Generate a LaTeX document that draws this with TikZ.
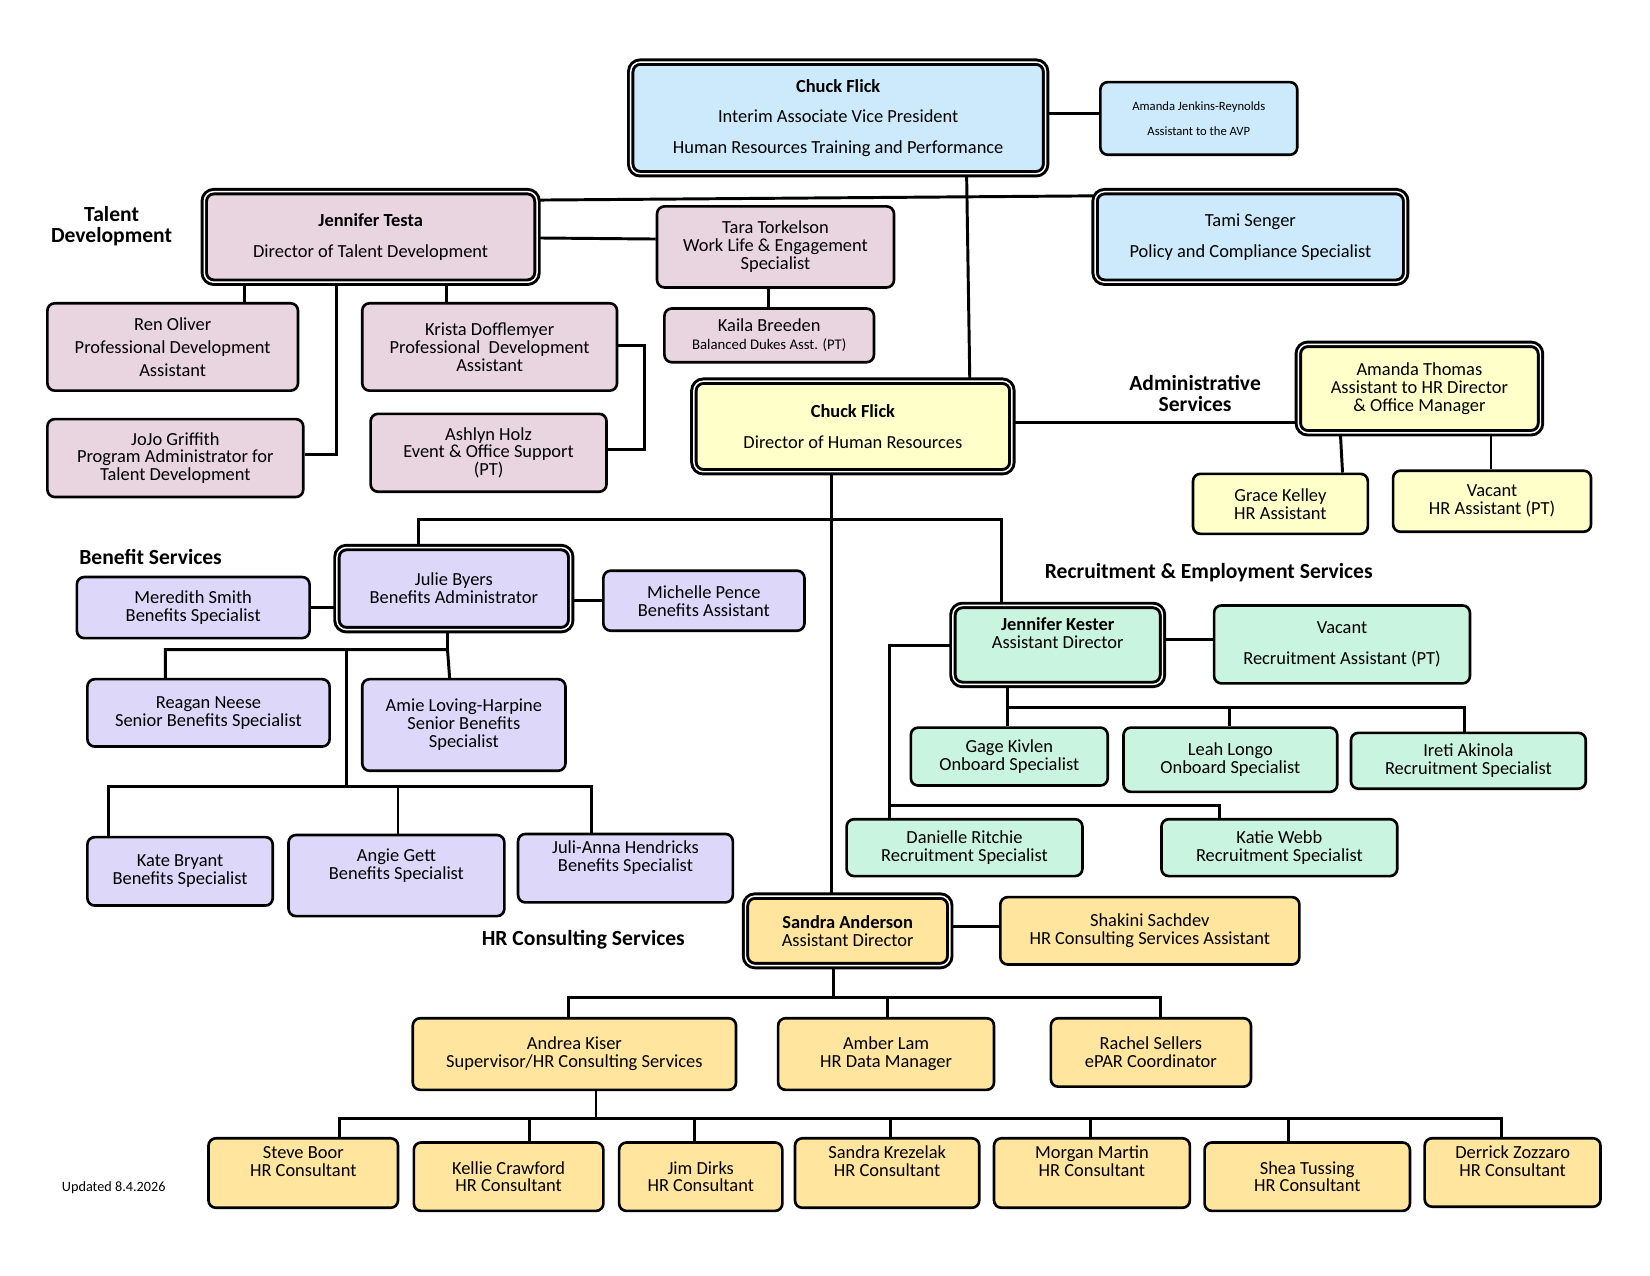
\documentclass[tikz,border=0pt]{standalone}
\usepackage{fontspec}
\setmainfont{Carlito}
\begin{document}
\begin{tikzpicture}[x=1pt,y=-1pt,
 bx/.style={draw,line width=2.5pt,rounded corners=7pt,align=center,inner sep=1pt,font=\fontsize{17.5}{17}\selectfont},
 tk/.style={bx,line width=2.8pt,double=white,double distance=1.4pt,rounded corners=9pt},
 ln/.style={line width=2.8pt},
 lab/.style={font=\fontsize{20.5}{20}\selectfont\bfseries,align=center}]
\definecolor{cb}{HTML}{CCEAFB}\definecolor{cp}{HTML}{E9D5E0}\definecolor{cy}{HTML}{FFFFCA}
\definecolor{cv}{HTML}{DDD8FA}\definecolor{cg}{HTML}{C9F4E0}\definecolor{co}{HTML}{FFE59E}
\useasboundingbox (0,0) rectangle (1567,1211);
\newcommand\bx[7]{\node[#6,minimum width={(#4-#2)*1pt},minimum height={(#5-#3)*1pt}] (#1) at ({(#2+#4)/2},{(#3+#5)/2}) {#7};}
% top
\bx{avp}{599}{59}{993}{165}{tk,fill=cb,font=\fontsize{17.5}{29}\selectfont}{\textbf{Chuck Flick}\\Interim Associate Vice President\\Human Resources Training and Performance}
\bx{ajr}{1045}{78}{1232}{147}{bx,fill=cb,font=\fontsize{12}{24}\selectfont}{Amanda Jenkins-Reynolds\\Assistant to the AVP}
\bx{tami}{1040}{182}{1335}{268}{tk,fill=cb,font=\fontsize{17.5}{29}\selectfont}{Tami Senger\\Policy and Compliance Specialist}
% talent
\bx{testa}{194}{182}{510}{268}{tk,fill=cp,font=\fontsize{17.5}{29}\selectfont}{\textbf{Jennifer Testa}\\Director of Talent Development}
\bx{tara}{624}{196}{849}{273}{bx,fill=cp}{Tara Torkelson\\Work Life \& Engagement\\Specialist}
\bx{kaila}{631}{293}{830}{344}{bx,fill=cp}{Kaila Breeden\\{\fontsize{14}{14}\selectfont Balanced Dukes Asst. (PT)}}
\bx{ren}{45}{288}{283}{371}{bx,fill=cp,font=\fontsize{17.5}{22}\selectfont}{Ren Oliver\\Professional Development\\Assistant}
\bx{krista}{344}{288}{586}{371}{bx,fill=cp}{Krista Dofflemyer\\Professional~ Development\\Assistant}
\bx{jojo}{45}{398}{288}{472}{bx,fill=cp}{JoJo Griffith\\Program Administrator for\\Talent Development}
\bx{ashlyn}{352}{393}{576}{467}{bx,fill=cp}{Ashlyn Holz\\Event \& Office Support\\(PT)}
% HR
\bx{hrd}{659}{362}{961}{448}{tk,fill=cy,font=\fontsize{17.5}{29}\selectfont}{\textbf{Chuck Flick}\\Director of Human Resources}
\bx{athomas}{1233}{327}{1463}{411}{tk,fill=cy}{Amanda Thomas\\Assistant to HR Director\\\& Office Manager}
\bx{grace}{1133}{450}{1299}{507}{bx,fill=cy}{Grace Kelley\\HR Assistant}
\bx{vachr}{1323}{447}{1511}{505}{bx,fill=cy}{Vacant\\HR Assistant (PT)}
% benefits
\bx{julie}{320}{520}{542}{598}{tk,fill=cv}{Julie Byers\\Benefits Administrator}
\bx{meredith}{73}{548}{294}{606}{bx,fill=cv}{Meredith Smith\\Benefits Specialist}
\bx{michelle}{573}{542}{764}{599}{bx,fill=cv}{Michelle Pence\\Benefits Assistant}
\bx{reagan}{83}{645}{313}{709}{bx,fill=cv}{Reagan Neese\\Senior Benefits Specialist}
\bx{amie}{344}{645}{537}{732}{bx,fill=cv}{Amie Loving-Harpine\\Senior Benefits\\Specialist}
\bx{kate}{83}{795}{259}{860}{bx,fill=cv}{Kate Bryant\\Benefits Specialist}
\bx{angie}{274}{793}{479}{870}{bx,fill=cv}{Angie Gett\\Benefits Specialist\\\strut}
\bx{julia}{492}{792}{696}{857}{bx,fill=cv}{Juli-Anna Hendricks\\Benefits Specialist\\\strut}
% recruitment
\bx{kester}{905}{575}{1104}{650}{tk,fill=cg}{\textbf{Jennifer Kester}\\Assistant Director\\\strut}
\bx{vacra}{1153}{575}{1396}{649}{bx,fill=cg,font=\fontsize{17.5}{29}\selectfont}{Vacant\\Recruitment Assistant (PT)}
\bx{gage}{865}{691}{1052}{746}{bx,fill=cg}{Gage Kivlen\\Onboard Specialist}
\bx{leah}{1067}{691}{1270}{752}{bx,fill=cg}{Leah Longo\\Onboard Specialist}
\bx{ireti}{1283}{696}{1506}{749}{bx,fill=cg}{Ireti Akinola\\Recruitment Specialist}
\bx{danielle}{804}{778}{1028}{832}{bx,fill=cg}{Danielle Ritchie\\Recruitment Specialist}
\bx{katie}{1103}{778}{1327}{832}{bx,fill=cg}{Katie Webb\\Recruitment Specialist}
% consulting
\bx{sandra}{708}{851}{902}{917}{tk,fill=co}{\textbf{Sandra Anderson}\\Assistant Director}
\bx{shakini}{950}{852}{1234}{916}{bx,fill=co}{Shakini Sachdev\\HR Consulting Services Assistant}
\bx{andrea}{392}{967}{699}{1035}{bx,fill=co}{Andrea Kiser\\Supervisor/HR Consulting Services}
\bx{amber}{739}{967}{944}{1035}{bx,fill=co}{Amber Lam\\HR Data Manager}
\bx{rachel}{998}{967}{1188}{1032}{bx,fill=co}{Rachel Sellers\\ePAR Coordinator}
\bx{steve}{198}{1081}{378}{1147}{bx,fill=co}{Steve Boor\\HR Consultant\\\strut}
\bx{kellie}{393}{1085}{573}{1150}{bx,fill=co}{Kellie Crawford\\HR Consultant}
\bx{jim}{588}{1085}{743}{1150}{bx,fill=co}{Jim Dirks\\HR Consultant}
\bx{sandrak}{755}{1081}{930}{1147}{bx,fill=co}{Sandra Krezelak\\HR Consultant\\\strut}
\bx{morgan}{944}{1081}{1130}{1147}{bx,fill=co}{Morgan Martin\\HR Consultant\\\strut}
\bx{shea}{1144}{1085}{1339}{1150}{bx,fill=co}{Shea Tussing\\HR Consultant}
\bx{derrick}{1353}{1081}{1520}{1146}{bx,fill=co}{Derrick Zozzaro\\HR Consultant\\\strut}
% labels
\node[lab] (l1) at (106,215) {Talent\\Development};
\node[lab] (l2) at (1135,374) {Administrative\\Services};
\node[lab] (l3) at (143,529) {Benefit Services};
\node[lab] (l4) at (1148,544) {Recruitment \& Employment Services};
\node[lab] (l5) at (554,892) {HR Consulting Services};
\node[font=\fontsize{13.5}{13}\selectfont] (upd) at (108,1128) {Updated 8.4.2026};
% connectors
\begin{scope}[ln]
\draw (avp.east |- 0,108) -- (ajr.west |- 0,108);
\draw (testa.east |- 0,190) -- (tami.west |- 0,186);
\draw (918,0 |- avp.south) -- (921,0 |- hrd.north);
\draw (testa.east |- 0,226) -- (tara.west |- 0,227);
\draw (730,0 |- tara.south) -- (730,0 |- kaila.north);
\draw (232,0 |- testa.south) -- (232,0 |- ren.north);
\draw (424,0 |- testa.south) -- (424,0 |- krista.north);
\draw (320,0 |- testa.south) -- (320,432) -- (jojo.east |- 0,432);
\draw (krista.east |- 0,328) -- (612,328) -- (612,427) -- (ashlyn.east |- 0,427);
\draw (hrd.east |- 0,401) -- (athomas.west |- 0,401);
\draw (1273,0 |- athomas.south) -- (1275,0 |- grace.north);
\draw (1416,0 |- athomas.south) -- (1416,0 |- vachr.north);
\draw (790,0 |- hrd.south) -- (790,0 |- sandra.north);
\draw (397,0 |- julie.north) -- (397,493) -- (951,493) -- (951,0 |- kester.north);
\draw (julie.west |- 0,577) -- (meredith.east |- 0,577);
\draw (julie.east |- 0,570) -- (michelle.west |- 0,570);
\draw (157,0 |- reagan.north) -- (157,617) -- (425,617) -- (427,0 |- amie.north);
\draw (425,0 |- julie.south) -- (425,617);
\draw (329,617) -- (329,747);
\draw (103,0 |- kate.north) -- (103,747) -- (562,747) -- (562,0 |- julia.north);
\draw (378,747) -- (378,0 |- angie.north);
\draw (kester.east |- 0,607) -- (vacra.west |- 0,607);
\draw (kester.west |- 0,613) -- (845,613) -- (845,0 |- danielle.north);
\draw (845,765) -- (1158,765) -- (1158,0 |- katie.north);
\draw (957,0 |- kester.south) -- (957,672) -- (1391,672) -- (1391,0 |- ireti.north);
\draw (957,672) -- (957,0 |- gage.north);
\draw (1168,672) -- (1168,0 |- leah.north);
\draw (sandra.east |- 0,880) -- (shakini.west |- 0,880);
\draw (792,0 |- sandra.south) -- (792,947);
\draw (540,0 |- andrea.north) -- (540,947) -- (1102,947) -- (1102,0 |- rachel.north);
\draw (843,947) -- (843,0 |- amber.north);
\draw (566,0 |- andrea.south) -- (566,1062);
\draw (322,0 |- steve.north) -- (322,1062) -- (1426,1062) -- (1426,0 |- derrick.north);
\draw (503,1062) -- (503,0 |- kellie.north);
\draw (660,1062) -- (660,0 |- jim.north);
\draw (846,1062) -- (846,0 |- sandrak.north);
\draw (1036,1062) -- (1036,0 |- morgan.north);
\draw (1224,1062) -- (1224,0 |- shea.north);
\end{scope}
\end{tikzpicture}
\end{document}
